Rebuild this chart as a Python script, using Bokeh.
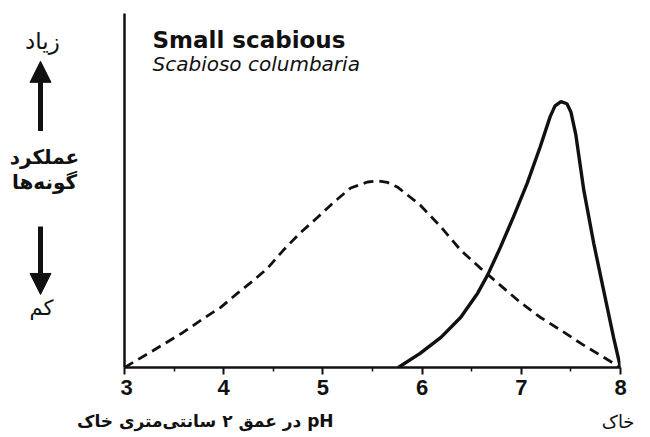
from bokeh.plotting import figure
from bokeh.models import Label, Arrow, NormalHead, FixedTicker, Range1d
from bokeh.layouts import row, column
from bokeh.core.properties import value
from bokeh.embed import file_html
from bokeh.resources import INLINE

# --- data ---
ph_ticks = [3, 4, 5, 6, 7, 8]
ph_minor = [3.5, 4.5, 5.5, 6.5, 7.5]

# dashed curve (broad tolerance)
dash_x = [3.00, 3.29, 3.59, 3.80, 3.97, 4.14, 4.30, 4.44, 4.60, 4.77, 4.95, 5.11, 5.28, 5.45,
          5.55, 5.65, 5.75, 5.98, 6.19, 6.39, 6.59, 6.79, 6.99, 7.19, 7.40, 7.60, 7.80, 8.00]
dash_y = [0.0, 4.8, 9.9, 13.9, 17.0, 21.0, 24.6, 28.0, 33.1, 38.0, 42.5, 46.7, 50.7, 52.4,
          52.7, 52.3, 51.0, 45.9, 39.7, 33.1, 28.0, 23.2, 18.4, 14.2, 10.5, 6.8, 3.4, 0.0]

# solid curve (Small scabious, Scabiosa columbaria)
solid_x = [5.76, 5.98, 6.19, 6.39, 6.56, 6.66, 6.79, 6.92, 7.06, 7.19, 7.29, 7.34, 7.40,
           7.46, 7.50, 7.55, 7.63, 7.73, 7.83, 7.93, 8.00]
solid_y = [0.0, 4.0, 8.5, 14.2, 21.0, 26.1, 34.0, 42.5, 52.1, 62.3, 70.8, 73.9, 75.1,
           74.5, 72.2, 65.7, 50.1, 35.1, 21.8, 8.5, 0.0]

title_en = "Small scabious"
title_latin = "Scabioso columbaria"
y_high = "زیاد"
y_mid1 = "عملکرد"
y_mid2 = "گونه‌ها"
y_low = "کم"
x_label = "\u202bpH در عمق ۲ سانتی‌متری خاک\u202c"
x_label_right = "خاک"

INK = "#111111"
FA_FONT = "DejaVu Sans"

TOP_H = 407
LEFT_W = 120

# --- left panel: performance labels and arrows ---
left = figure(width=LEFT_W, height=TOP_H, output_backend="svg", toolbar_location=None,
              x_range=Range1d(0, LEFT_W), y_range=Range1d(TOP_H, 0),
              x_axis_type=None, y_axis_type=None,
              min_border_left=0, min_border_right=0, min_border_top=0, min_border_bottom=0)
left.outline_line_color = None
left.xgrid.visible = False
left.ygrid.visible = False

left.text(x=[42], y=[32], text=[y_high], text_font=value(FA_FONT), text_font_size="23px",
          text_color=INK, text_align="center", text_baseline="middle")
left.text(x=[44, 44], y=[165, 194], text=[y_mid1, y_mid2], text_font=value(FA_FONT),
          text_font_size="20px", text_font_style="bold", text_color=INK,
          text_align="center", text_baseline="middle")
left.text(x=[41], y=[339], text=[y_low], text_font=value(FA_FONT), text_font_size="21px",
          text_color=INK, text_align="center", text_baseline="middle")

left.add_layout(Arrow(x_start=40, y_start=135, x_end=40, y_end=55,
                      line_width=5, line_color=INK,
                      end=NormalHead(size=21, fill_color=INK, line_color=INK)))
left.add_layout(Arrow(x_start=40, y_start=245, x_end=40, y_end=323,
                      line_width=5, line_color=INK,
                      end=NormalHead(size=21, fill_color=INK, line_color=INK)))

# --- main chart ---
p = figure(frame_width=496, frame_height=354, output_backend="svg", toolbar_location=None,
           x_range=Range1d(3, 8), y_range=Range1d(0, 100),
           min_border_left=4, min_border_right=14, min_border_top=13,
           min_border_bottom=TOP_H - 367)
p.outline_line_color = None
p.xgrid.visible = False
p.ygrid.visible = False

p.line(dash_x, dash_y, line_color=INK, line_width=2.8, line_dash="10 6")
p.line(solid_x, solid_y, line_color=INK, line_width=3.4)

xa = p.xaxis[0]
xa.ticker = FixedTicker(ticks=ph_ticks, minor_ticks=ph_minor)
xa.axis_label = None
xa.axis_label_standoff = 0
xa.axis_line_width = 2.5
xa.axis_line_color = INK
xa.major_tick_line_width = 2
xa.major_tick_line_color = INK
xa.major_tick_out = 7
xa.major_tick_in = 0
xa.minor_tick_line_width = 1.5
xa.minor_tick_line_color = INK
xa.minor_tick_out = 4
xa.minor_tick_in = 0
xa.major_label_text_font = "Liberation Sans"
xa.major_label_text_font_style = "bold"
xa.major_label_text_font_size = "22px"
xa.major_label_text_color = INK
xa.major_label_standoff = 5

ya = p.yaxis[0]
ya.ticker = FixedTicker(ticks=[])
ya.axis_label = None
ya.axis_label_standoff = 0
ya.axis_line_width = 2.5
ya.axis_line_color = INK
ya.major_tick_line_color = None
ya.minor_tick_line_color = None
ya.major_tick_out = 0
ya.minor_tick_out = 0
ya.major_label_standoff = 0


def px_x(px):
    return 3 + (px - 124) / 99.2


def px_y(py):
    return (367 - py) / 3.54


p.add_layout(Label(x=px_x(152), y=px_y(39), text=title_en, text_font=FA_FONT,
                   text_font_size="23px", text_font_style="bold", text_color=INK,
                   text_align="left", text_baseline="middle"))
p.add_layout(Label(x=px_x(152), y=px_y(63), text=title_latin, text_font=FA_FONT,
                   text_font_size="20px", text_font_style="italic", text_color=INK,
                   text_align="left", text_baseline="middle"))

# --- bottom strip: axis caption ---
BOT_W = 634
BOT_H = 30
bottom = figure(width=BOT_W, height=BOT_H, output_backend="svg", toolbar_location=None,
                x_range=Range1d(0, BOT_W), y_range=Range1d(BOT_H, 0),
                x_axis_type=None, y_axis_type=None,
                min_border_left=0, min_border_right=0, min_border_top=0, min_border_bottom=0)
bottom.outline_line_color = None
bottom.xgrid.visible = False
bottom.ygrid.visible = False
bottom.text(x=[333], y=[3], text=[x_label], text_font=value(FA_FONT), text_font_size="17px",
            text_font_style="bold", text_color=INK, text_align="right",
            text_baseline="top")
bottom.text(x=[634], y=[3], text=[x_label_right], text_font=value(FA_FONT),
            text_font_size="18px", text_color=INK, text_align="right",
            text_baseline="top")

layout = column(row(left, p), bottom)
open("out.html", "w").write(file_html(layout, INLINE))
